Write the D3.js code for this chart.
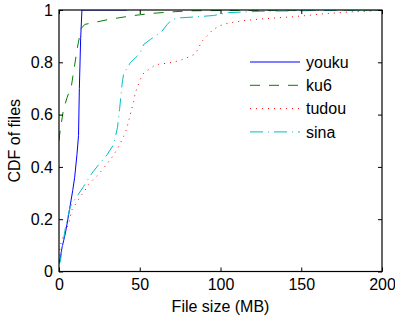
<!DOCTYPE html>
<html>
<head>
<meta charset="utf-8">
<script src="https://cdn.jsdelivr.net/npm/d3@7"></script>
<style>
  body { margin: 0; background: #fff; }
  svg text { font-family: "Liberation Sans", Arial, sans-serif; font-size: 16px; fill: #000; }
</style>
</head>
<body>
<div id="chart"></div>
<script>
// series names, in legend order
var seriesNames = ['youku', 'ku6', 'tudou', 'sina'];
var xTicks = [0, 50, 100, 150, 200];
var yTicks = [0, 0.2, 0.4, 0.6, 0.8, 1];

// CDF points: [file size MB, cdf]
var youku = [[0, 0.03], [1, 0.06], [2, 0.095], [3.9, 0.145], [5.5, 0.2], [7, 0.255], [8.5, 0.31],
  [9.7, 0.36], [11.1, 0.446], [12.1, 0.52], [12.6, 0.7], [13.4, 0.89], [14.2, 1.0], [42, 1.0]];
var ku6 = [[0, 0.5], [0.3, 0.52], [1.5, 0.57], [2.8, 0.62], [5, 0.665], [7.7, 0.71], [9.7, 0.79],
  [11.8, 0.87], [13.8, 0.93], [16, 0.945], [21, 0.951], [30, 0.963], [45, 0.978], [57.6, 0.987],
  [70, 0.993], [82, 0.997], [120, 0.999], [200, 1.0]];
var tudou = [[0, 0.06], [0.8, 0.1], [2.3, 0.128], [3.9, 0.152], [6, 0.185], [8, 0.236], [10.5, 0.26],
  [13.2, 0.287], [15.9, 0.308], [18.3, 0.334], [21.4, 0.353], [24.5, 0.372], [27.6, 0.395],
  [30.3, 0.417], [33.2, 0.44], [35.9, 0.466], [38, 0.491], [40, 0.516], [41.7, 0.542],
  [43.1, 0.574], [44.1, 0.6], [45.2, 0.625], [46.2, 0.65], [47.2, 0.683], [48.7, 0.708],
  [50.3, 0.734], [52.4, 0.759], [55.5, 0.772], [58.6, 0.785], [62.3, 0.794], [66.9, 0.796],
  [71, 0.801], [76.2, 0.81], [80.3, 0.82], [84.4, 0.832], [86.4, 0.855], [88.5, 0.88],
  [91.6, 0.9], [94.7, 0.921], [98.8, 0.938], [103, 0.947], [108, 0.953], [116.4, 0.961],
  [125.7, 0.966], [135, 0.97], [144.3, 0.974], [153.6, 0.979], [162.8, 0.985], [172, 0.989],
  [181.4, 0.993], [190.7, 0.995], [200, 1.0]];
var sina = [[0, 0.03], [0.8, 0.037], [2, 0.09], [3.9, 0.165], [5.5, 0.21], [7, 0.248], [9.7, 0.274],
  [15.2, 0.325], [20.4, 0.376], [24.5, 0.408], [29.7, 0.446], [33.8, 0.485], [36.2, 0.55],
  [37.5, 0.62], [38.4, 0.676], [39, 0.714], [40, 0.755], [44.1, 0.798], [48.3, 0.823],
  [50.3, 0.836], [52.4, 0.868], [56.5, 0.887], [59.6, 0.9], [63.8, 0.919], [66.9, 0.944],
  [70, 0.964], [75.1, 0.97], [85.4, 0.974], [95.7, 0.979], [105, 0.99], [125, 0.995],
  [160, 0.998], [200, 1.0]];

var styles = {
  youku: { color: '#0000ff', dash: null },
  ku6: { color: '#008000', dash: '10,9' },
  tudou: { color: '#ff0000', dash: '1,5' },
  sina: { color: '#00bfbf', dash: '13,5,1,5' }
};
var seriesData = { youku: youku, ku6: ku6, tudou: tudou, sina: sina };

var width = 395, height = 318;
var plotLeft = 59, plotRight = 382, plotTop = 10, plotBottom = 271.5;

var svg = d3.select('#chart').append('svg')
  .attr('width', width)
  .attr('height', height);

var x = d3.scaleLinear().domain([0, 200]).range([plotLeft, plotRight]);
var y = d3.scaleLinear().domain([0, 1]).range([plotBottom, plotTop]);

svg.append('clipPath').attr('id', 'plot')
  .append('rect')
  .attr('x', plotLeft).attr('y', plotTop)
  .attr('width', plotRight - plotLeft).attr('height', plotBottom - plotTop);

var line = d3.line()
  .x(function (d) { return x(d[0]); })
  .y(function (d) { return y(d[1]); });

svg.append('g')
  .attr('clip-path', 'url(#plot)')
  .selectAll('path')
  .data(seriesNames)
  .enter().append('path')
  .attr('d', function (name) { return line(seriesData[name]); })
  .attr('fill', 'none')
  .attr('stroke', function (name) { return styles[name].color; })
  .attr('stroke-width', 1)
  .attr('stroke-dasharray', function (name) { return styles[name].dash; });

// box with inward ticks on all four sides (matlab style)
function styleAxis(g) {
  g.select('.domain').remove();
  g.selectAll('.tick line').attr('stroke', '#000');
  g.selectAll('text').style('font-size', '16px');
}

svg.append('g')
  .attr('transform', 'translate(0,' + plotBottom + ')')
  .call(d3.axisBottom(x).tickValues(xTicks).tickSizeInner(-4).tickSizeOuter(0).tickPadding(7))
  .call(styleAxis);
svg.append('g')
  .attr('transform', 'translate(0,' + plotTop + ')')
  .call(d3.axisTop(x).tickValues(xTicks).tickSizeInner(-4).tickSizeOuter(0).tickFormat(''))
  .call(styleAxis);
svg.append('g')
  .attr('transform', 'translate(' + plotLeft + ',0)')
  .call(d3.axisLeft(y).tickValues(yTicks).tickSizeInner(-4).tickSizeOuter(0).tickPadding(6)
    .tickFormat(function (d) { return d === 0 || d === 1 ? d3.format('d')(d) : d3.format('.1f')(d); }))
  .call(styleAxis);
svg.append('g')
  .attr('transform', 'translate(' + plotRight + ',0)')
  .call(d3.axisRight(y).tickValues(yTicks).tickSizeInner(-4).tickSizeOuter(0).tickFormat(''))
  .call(styleAxis);

svg.append('rect')
  .attr('x', plotLeft).attr('y', plotTop)
  .attr('width', plotRight - plotLeft).attr('height', plotBottom - plotTop)
  .attr('fill', 'none')
  .attr('stroke', '#000')
  .attr('stroke-width', 1.2);

svg.append('text')
  .attr('x', (plotLeft + plotRight) / 2)
  .attr('y', 312)
  .attr('text-anchor', 'middle')
  .text('File size (MB)');

svg.append('text')
  .attr('transform', 'translate(20,' + ((plotTop + plotBottom) / 2) + ') rotate(-90)')
  .attr('text-anchor', 'middle')
  .text('CDF of files');

// legend, no box
var legend = svg.append('g').attr('class', 'legend')
  .selectAll('g')
  .data(seriesNames)
  .enter().append('g')
  .attr('transform', function (d, i) { return 'translate(250,' + (62 + i * 23.3) + ')'; });

legend.append('line')
  .attr('x1', 0).attr('x2', 50)
  .attr('stroke', function (name) { return styles[name].color; })
  .attr('stroke-width', 1)
  .attr('stroke-dasharray', function (name) { return styles[name].dash; });

legend.append('text')
  .attr('x', 56)
  .attr('dy', '0.36em')
  .text(function (name) { return name; });
</script>
</body>
</html>
